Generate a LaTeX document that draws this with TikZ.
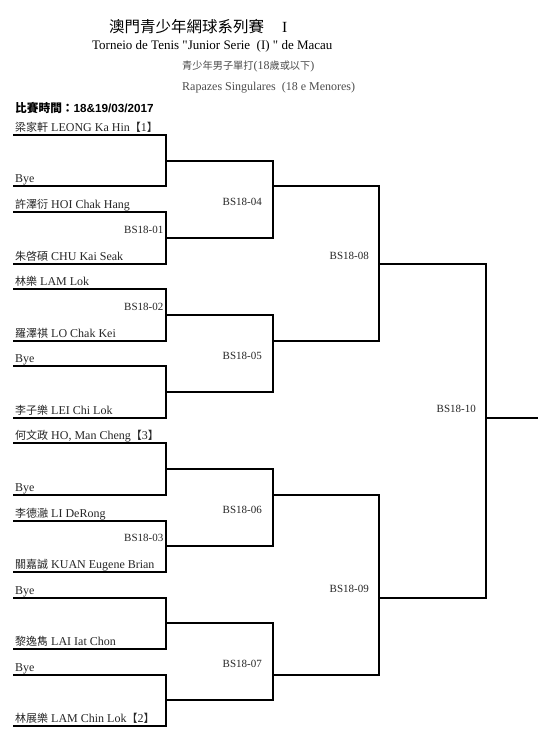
\documentclass[tikz,border=0pt]{standalone}
\usepackage{fontspec}
\setmainfont{Liberation Serif}
\newfontfamily\rawserif{Liberation Serif}
\newfontfamily\cjk{Noto Sans CJK TC}
\newfontfamily\datefont{Liberation Sans}
\usetikzlibrary{positioning}

\newcommand{\plr}[2]{{\cjk\fontsize{11}{13}\selectfont #1} #2}
\newcommand{\seed}[1]{{\cjk\fontsize{11}{13}\selectfont 【}#1{\cjk\fontsize{11}{13}\selectfont 】}}

\begin{document}
\begin{tikzpicture}[
    x=1pt, y=-1pt,
    bracket/.style={line width=2pt, line join=miter},
    pname/.style={anchor=base west, inner sep=0pt, text=black!85, font=\fontsize{12}{14}\selectfont},
    mlabel/.style={anchor=base east, inner sep=0pt, text=black!85, font=\fontsize{11}{13}\selectfont},
    head/.style={anchor=base west, inner sep=0pt},
]
\useasboundingbox (0,0) rectangle (555,741);

% heading
\node[head, font=\fontsize{15.5}{18}\selectfont] (title) at (109,33) {{\cjk 澳門青少年網球系列賽}\hspace{18pt}I};
\node[head, font=\rawserif\fontsize{13}{15}\selectfont] (torneio) at (92,50) {Torneio de Tenis "Junior Serie\ \ (I) " de Macau};
\node[head, text=black!70, font=\fontsize{12}{14}\selectfont] (catzh) at (182,70) {{\cjk\fontsize{10.2}{13}\selectfont 青少年男子單打}(18{\cjk\fontsize{10.2}{13}\selectfont 歲或以下})};
\node[head, text=black!70, font=\fontsize{12}{14}\selectfont] (catpt) at (182,91) {Rapazes Singulares\ \ (18 e Menores)};
\node[head, font=\fontsize{11.7}{13}\selectfont\bfseries] (date) at (15,112.5) {{\cjk 比賽時間：}{\datefont 18\&19/03/2017}};

\begin{scope}[yshift=-135pt, y=-25.7pt]
% players
\foreach \r/\txt in {
    0/{\plr{梁家軒}{LEONG Ka Hin}\seed{1}},
    2/Bye,
    3/{\plr{許澤衍}{HOI Chak Hang}},
    5/{\plr{朱啓碩}{CHU Kai Seak}},
    6/{\plr{林樂}{LAM Lok}},
    8/{\plr{羅澤祺}{LO Chak Kei}},
    9/Bye,
    11/{\plr{李子樂}{LEI Chi Lok}},
    12/{\plr{何文政}{HO, Man Cheng}\seed{3}},
    14/Bye,
    15/{\plr{李德瀜}{LI DeRong}},
    17/{\plr{關嘉誠}{KUAN Eugene Brian}},
    18/Bye,
    20/{\plr{黎逸雋}{LAI Iat Chon}},
    21/Bye,
    23/{\plr{林展樂}{LAM Chin Lok}\seed{2}}}{
  \coordinate (l\r) at (13,\r);
  \coordinate (r\r) at (166,\r);
  \node[pname] (n\r) at ([shift={(2pt,3.5pt)}]l\r) {\txt};
}

% first round
\foreach \a/\b/\m in {0/2/1, 3/5/4, 6/8/7, 9/11/10, 12/14/13, 15/17/16, 18/20/19, 21/23/22}{
  \draw[bracket] (l\a) -- (r\a) -- (r\b) -- (l\b);
  \coordinate (w\m) at (166,\m);
}
\node[mlabel] (m01) at ([shift={(-2.5pt,4.5pt)}]w4) {BS18-01};
\node[mlabel] (m02) at ([shift={(-2.5pt,4.5pt)}]w7) {BS18-02};
\node[mlabel] (m03) at ([shift={(-2.5pt,4.5pt)}]w16) {BS18-03};

% second round
\coordinate (c04) at (273,2);
\coordinate (c05) at (273,8);
\coordinate (c06) at (273,14);
\coordinate (c07) at (273,21);
\draw[bracket] (w1) -| (c04) |- (w4);
\draw[bracket] (w7) -| (c05) |- (w10);
\draw[bracket] (w13) -| (c06) |- (w16);
\draw[bracket] (w19) -| (c07) |- (w22);
\node[mlabel] (m04) at ([shift={(-11pt,-6pt)}]273,2.5) {BS18-04};
\node[mlabel] (m05) at ([shift={(-11pt,-6pt)}]273,8.5) {BS18-05};
\node[mlabel] (m06) at ([shift={(-11pt,-6pt)}]273,14.5) {BS18-06};
\node[mlabel] (m07) at ([shift={(-11pt,-6pt)}]273,20.5) {BS18-07};

% semi finals
\coordinate (c08) at (379,5);
\coordinate (c09) at (379,18);
\draw[bracket] (c04) -| (c08) |- (c05);
\draw[bracket] (c06) -| (c09) |- (c07);
\node[mlabel] (m08) at ([shift={(-10pt,4.5pt)}]c08) {BS18-08};
\node[mlabel] (m09) at ([shift={(-10pt,5.5pt)}]c09) {BS18-09};

% final
\coordinate (c10) at (486,11);
\coordinate (win) at (538,11);
\draw[bracket] (c08) -| (c10) |- (c09);
\draw[bracket] (c10) -- (win);
\node[mlabel] (m10) at ([shift={(-10pt,5.5pt)}]c10) {BS18-10};
\end{scope}
\end{tikzpicture}
\end{document}
